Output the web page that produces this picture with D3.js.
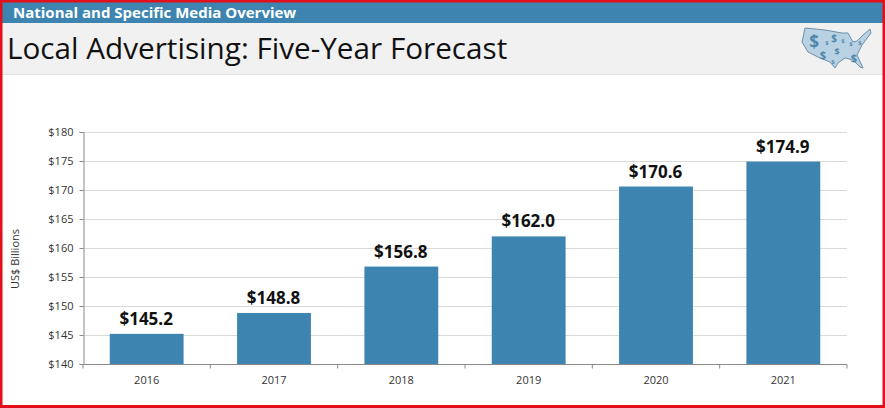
<!DOCTYPE html>
<html><head><meta charset="utf-8">
<script src="https://cdn.jsdelivr.net/npm/d3@7/dist/d3.min.js"></script>
<style>
html,body{margin:0;padding:0;background:#fff;overflow:hidden}
svg{display:block;font-family:"Open Sans",sans-serif}
</style></head><body>
<svg id="c" width="885" height="408"></svg>
<script>
const categories=["2016","2017","2018","2019","2020","2021"];
const values=[145.2,148.8,156.8,162.0,170.6,174.9];
const yTicks=[140,145,150,155,160,165,170,175,180];
const headerText="National and Specific Media Overview";
const titleText="Local Advertising: Five-Year Forecast";
const yTitle="US$ Billions";
const mapOutline=[[805,28],[825,30],[842,33],[848,33],[853,42],[857,41],[863,35],[870,29],[871,33],[862,45],[857,55],[863,68],[860,67],[853,60],[845,58],[838,63],[835,68],[830,62],[820,58],[808,52],[802,42]];
const mapSigns=[[814,48,17],[827,45,6],[823,59,11],[834,42,10],[837,55,9],[843,43,6],[851,46,6],[854,62,11],[833,64,6],[860,45,6]];

const svg=d3.select("#c");
svg.append("rect").attr("width",885).attr("height",408).attr("fill","#fff");
svg.append("rect").attr("x",2).attr("y",2).attr("width",881).attr("height",21).attr("fill","#3d85b0");
svg.append("rect").attr("x",2).attr("y",23).attr("width",881).attr("height",51).attr("fill","#f1f1f1");
svg.append("line").attr("x1",2).attr("x2",883).attr("y1",74.5).attr("y2",74.5).attr("stroke","#e2e2e2");
svg.append("text").attr("x",13).attr("y",18).attr("font-size",15).attr("font-weight",700).attr("fill","#fff").text(headerText);
svg.append("text").attr("x",7).attr("y",59).attr("font-size",29.7).attr("fill","#111").text(titleText);

const icon=svg.append("g");
icon.append("path").attr("d",d3.line().curve(d3.curveLinearClosed)(mapOutline)).attr("fill","#b9d2e3").attr("stroke","#6e8fa6").attr("stroke-width",1);
icon.selectAll("text").data(mapSigns).join("text").attr("x",d=>d[0]).attr("y",d=>d[1]).attr("font-size",d=>d[2]).attr("font-weight",700).attr("fill","#4f86ab").attr("text-anchor","middle").text("$");

const m={l:83,r:847,t:132,b:364};
const x=d3.scaleBand().domain(categories).range([m.l,m.r]).paddingInner(0.42).paddingOuter(0.21);
const y=d3.scaleLinear().domain([140,180]).range([m.b,m.t]);

svg.append("g").selectAll("line").data(yTicks.slice(1)).join("line")
 .attr("x1",m.l).attr("x2",m.r).attr("y1",d=>Math.round(y(d))+.5).attr("y2",d=>Math.round(y(d))+.5).attr("stroke","#d9d9d9");

svg.append("g").selectAll("rect").data(values).join("rect")
 .attr("x",(d,i)=>x(categories[i])).attr("width",x.bandwidth()).attr("y",d=>y(d)).attr("height",d=>y(140)-y(d)).attr("fill","#3d85b0");

svg.append("g").selectAll("text").data(values).join("text")
 .attr("x",(d,i)=>x(categories[i])+x.bandwidth()/2-0.5).attr("y",d=>y(d)-9).attr("text-anchor","middle")
 .attr("font-size",17).attr("font-weight",700).attr("fill","#111").text(d=>"$"+d.toFixed(1));

const gy=svg.append("g").attr("transform",`translate(${m.l+.5},0)`).call(d3.axisLeft(y).tickValues(yTicks).tickSize(4).tickPadding(6).tickFormat(d=>"$"+d));
gy.selectAll("line,path").attr("stroke","#8a8a8a");
gy.selectAll("text").attr("font-family",'"Open Sans",sans-serif').attr("font-size",11).attr("fill","#333");

const gx=svg.append("g").attr("transform",`translate(0,${m.b+.5})`).call(d3.axisBottom(x).tickSize(0).tickPadding(12));
gx.selectAll("path").attr("stroke","#8a8a8a").attr("d",`M${m.l},0H${m.r}`);
gx.selectAll("text").attr("font-family",'"Open Sans",sans-serif').attr("font-size",11).attr("fill","#333");
const step=x.step();
gx.selectAll("line.b").data(d3.range(7)).join("line").attr("class","b")
 .attr("x1",i=>m.l+i*step).attr("x2",i=>m.l+i*step).attr("y1",0).attr("y2",4).attr("stroke","#8a8a8a");

svg.append("text").attr("transform","translate(19,259) rotate(-90)").attr("text-anchor","middle").attr("font-size",11).attr("fill","#333").text(yTitle);

svg.append("rect").attr("x",1).attr("y",1).attr("width",883).attr("height",405.5).attr("fill","none").attr("stroke","#e3101c").attr("stroke-width",3);
</script>
</body></html>
